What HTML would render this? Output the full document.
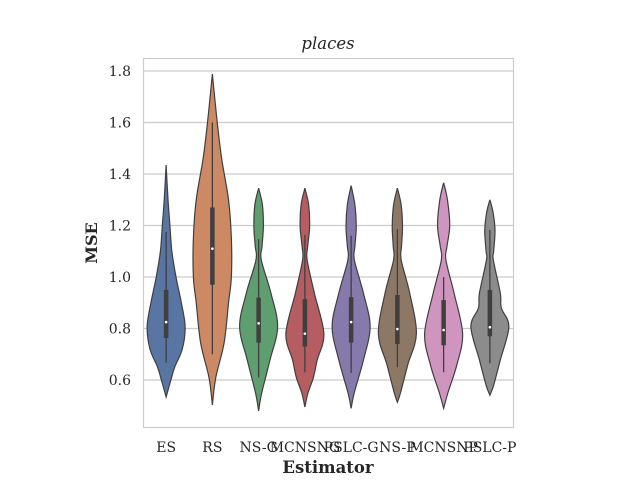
<!DOCTYPE html>
<html><head><meta charset="utf-8"><style>
body{margin:0;background:#fff}
svg text{font-family:"DejaVu Serif","Liberation Serif",serif;fill:#262626}
</style></head><body>
<svg id="chart" width="640" height="480" viewBox="0 0 640 480" xmlns="http://www.w3.org/2000/svg">
<rect width="640" height="480" fill="#fff"/>
<g id="grid"></g>
<g id="violins"></g>
<rect x="143.5" y="58.5" width="370" height="369" fill="none" stroke="#cccccc" stroke-width="1.2"/>
<g id="yticks"></g>
<g id="xticks"></g>
<text x="328" y="49" text-anchor="middle" font-size="16.5" font-style="italic">places</text>
<text x="328" y="473" text-anchor="middle" font-size="16.5" font-weight="bold">Estimator</text>
<text transform="translate(97,243) rotate(-90)" text-anchor="middle" font-size="16" font-weight="bold">MSE</text>
</svg>
<script>
const categories=["ES","RS","NS-G","MCNSNG","PSLC-G","NS-P","MCNSNP","PSLC-P"];
const colors=["#5975a4","#cc8963","#5f9e6e","#b55d60","#857aab","#8d7866","#d095bf","#8c8c8c"];
const yTicks=[0.6,0.8,1.0,1.2,1.4,1.6,1.8];
const yTickLabels=["0.6","0.8","1.0","1.2","1.4","1.6","1.8"];
// density profiles: [value, relative half-width]
const profileES=[[1.435,0],[1.3,0.1],[1.2,0.2],[1.1,0.3],[1.0,0.52],[0.9,0.8],[0.807,1],[0.72,0.85],[0.65,0.45],[0.6,0.25],[0.534,0]];
const profileRS=[[1.788,0],[1.713,0.1],[1.584,0.28],[1.454,0.5],[1.3,0.85],[1.15,1],[1.0,1],[0.9,0.85],[0.745,0.62],[0.61,0.18],[0.503,0]];
const profileNSG=[[1.345,0],[1.28,0.2],[1.195,0.25],[1.12,0.18],[1.066,0.14],[0.937,0.65],[0.807,1],[0.678,0.6],[0.549,0.16],[0.48,0]];
const profileMCG=[[1.345,0],[1.28,0.2],[1.195,0.25],[1.12,0.15],[1.066,0.12],[0.937,0.5],[0.78,1],[0.678,0.65],[0.61,0.45],[0.549,0.16],[0.495,0]];
const profilePSG=[[1.355,0],[1.28,0.2],[1.195,0.27],[1.12,0.2],[1.066,0.17],[0.937,0.65],[0.807,1],[0.678,0.65],[0.549,0.16],[0.49,0]];
const profileNSP=[[1.345,0],[1.28,0.2],[1.195,0.27],[1.12,0.22],[1.066,0.2],[0.937,0.65],[0.78,1],[0.66,0.55],[0.549,0.16],[0.514,0]];
const profileMCP=[[1.366,0],[1.3,0.2],[1.2,0.32],[1.12,0.18],[1.066,0.12],[0.937,0.55],[0.78,1],[0.66,0.7],[0.549,0.22],[0.49,0]];
const profilePSP=[[1.30,0],[1.25,0.17],[1.18,0.27],[1.1,0.2],[1.066,0.18],[0.937,0.55],[0.88,0.6],[0.807,1],[0.678,0.55],[0.58,0.2],[0.541,0]];
const profiles=[profileES,profileRS,profileNSG,profileMCG,profilePSG,profileNSP,profileMCP,profilePSP];
const q1=[0.763,0.97,0.745,0.73,0.745,0.74,0.735,0.77];
const medians=[0.825,1.11,0.82,0.78,0.825,0.798,0.794,0.805];
const q3=[0.95,1.27,0.92,0.914,0.922,0.93,0.91,0.95];
const whiskLo=[0.667,0.70,0.61,0.63,0.627,0.65,0.63,0.665];
const whiskHi=[1.175,1.60,1.147,1.163,1.16,1.186,1.0,1.183];

const NS="http://www.w3.org/2000/svg";
const x0=143,x1=513,maxHalf=19;
const band=(x1-x0)/categories.length;
const xc=i=>x0+band*(i+0.5);
const yv=v=>277-(v-1)*257.5;
function mk(tag,attrs,parent){const e=document.createElementNS(NS,tag);for(const k in attrs)e.setAttribute(k,attrs[k]);parent.appendChild(e);return e;}
const grid=document.getElementById('grid'),yt=document.getElementById('yticks'),xt=document.getElementById('xticks'),vg=document.getElementById('violins');
yTicks.forEach((t,i)=>{
  const l=mk('line',{x1:x0,x2:x1,y1:yv(t),y2:yv(t),stroke:'#cccccc','stroke-width':1.2},grid);
  
  
  const tx=mk('text',{x:131,y:yv(t)+5,'text-anchor':'end','font-size':14},yt);
  tx.textContent=yTickLabels[i];
  
  
});
function smooth(pts){
  let d='M'+pts[0][0]+','+pts[0][1];
  for(let i=0;i<pts.length-1;i++){
    const p0=pts[Math.max(i-1,0)],p1=pts[i],p2=pts[i+1],p3=pts[Math.min(i+2,pts.length-1)];
    const c1=[p1[0]+(p2[0]-p0[0])/6,p1[1]+(p2[1]-p0[1])/6],c2=[p2[0]-(p3[0]-p1[0])/6,p2[1]-(p3[1]-p1[1])/6];
    d+=' C'+c1+' '+c2+' '+p2;
  }
  return d;
}
categories.forEach((c,i)=>{
  const cx=xc(i),prof=profiles[i];
  const right=prof.map(p=>[cx+p[1]*maxHalf,yv(p[0])]);
  const left=prof.slice().reverse().map(p=>[cx-p[1]*maxHalf,yv(p[0])]);
  const d=smooth(right)+' L'+left[0]+smooth(left).replace(/^M[^ ]+/,'')+' Z';
  const p=mk('path',{d:d,fill:colors[i],stroke:'#3f3f3f','stroke-width':1.2},vg);
  
  
  const w=mk('line',{x1:cx,x2:cx,y1:yv(whiskHi[i]),y2:yv(whiskLo[i]),stroke:'#3f3f3f','stroke-width':1.3},vg);
  
  
  const b=mk('line',{x1:cx,x2:cx,y1:yv(q3[i]),y2:yv(q1[i]),stroke:'#3f3f3f','stroke-width':4.5},vg);
  
  
  const m=mk('circle',{cx:cx,cy:yv(medians[i]),r:1.3,fill:'#fff'},vg);
  
  
  const tx=mk('text',{x:cx,y:452,'text-anchor':'middle','font-size':14},xt);
  tx.textContent=c;
  
  
});
</script>
</body></html>
